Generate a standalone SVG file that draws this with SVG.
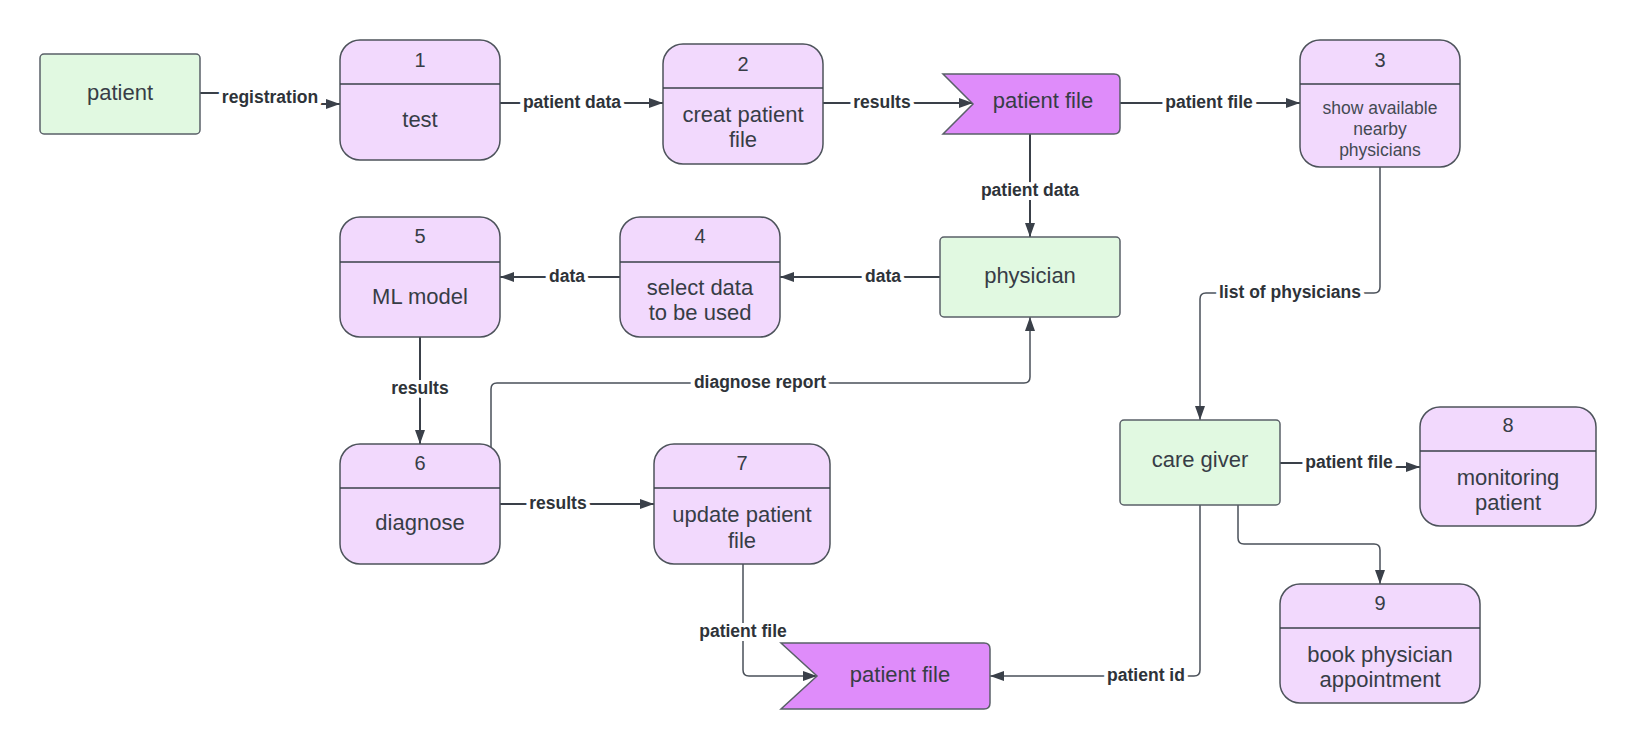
<svg xmlns="http://www.w3.org/2000/svg" width="1636" height="749" viewBox="0 0 1636 749">
<style>
.proc{fill:#f2d9fd;stroke:#4d535b;stroke-width:1.5}
.div{stroke:#3a4049;stroke-width:1.5}
.ent{fill:#e1f9e1;stroke:#5a6068;stroke-width:1.5}
.store{fill:#df8cfa;stroke:#5a6068;stroke-width:1.5}
.t{font-family:"Liberation Sans",Arial,sans-serif;font-size:22px;fill:#373d46;text-anchor:middle}
.n{font-family:"Liberation Sans",Arial,sans-serif;font-size:20px;fill:#373d46;text-anchor:middle}
.s{font-family:"Liberation Sans",Arial,sans-serif;font-size:17.5px;fill:#444a53;text-anchor:middle}
.c{fill:none;stroke:#3a4049;stroke-width:2}
.c2{fill:none;stroke:#4a5059;stroke-width:1.5}
.l{font-family:"Liberation Sans",Arial,sans-serif;font-size:17.5px;font-weight:bold;fill:#2e3339;text-anchor:middle;stroke:#fff;stroke-width:8;stroke-linejoin:round;paint-order:stroke}
</style>
<defs>
<marker id="ah" markerUnits="userSpaceOnUse" markerWidth="14" markerHeight="10" refX="14" refY="5" orient="auto">
<path d="M0,0 L14,5 L0,10 z" fill="#3a4049"/>
</marker>
</defs>
<rect width="1636" height="749" fill="#fff"/>
<g id="connectors">
<path class="c" d="M200,93 H270 V104 H340" marker-end="url(#ah)"/>
<path class="c" d="M500,103 H663" marker-end="url(#ah)"/>
<path class="c" d="M823,103 H973" marker-end="url(#ah)"/>
<path class="c" d="M1120,103 H1300" marker-end="url(#ah)"/>
<path class="c" d="M1030,134 V237" marker-end="url(#ah)"/>
<path class="c" d="M940,277 H780" marker-end="url(#ah)"/>
<path class="c" d="M620,277 H500" marker-end="url(#ah)"/>
<path class="c" d="M420,337 V444" marker-end="url(#ah)"/>
<path class="c2" d="M491,448 V389 Q491,383 497,383 H1024 Q1030,383 1030,377 V317" marker-end="url(#ah)"/>
<path class="c" d="M500,504 H654" marker-end="url(#ah)"/>
<path class="c2" d="M743,564 V670 Q743,676 749,676 H817" marker-end="url(#ah)"/>
<path class="c2" d="M1380,167 V287 Q1380,293 1374,293 H1206 Q1200,293 1200,299 V420" marker-end="url(#ah)"/>
<path class="c2" d="M1200,505 V670 Q1200,676 1194,676 H990" marker-end="url(#ah)"/>
<path class="c" d="M1280,463 H1340 V467 H1420" marker-end="url(#ah)"/>
<path class="c2" d="M1238,505 V538 Q1238,544 1244,544 H1374 Q1380,544 1380,550 V584" marker-end="url(#ah)"/>
<text class="l" x="270" y="103">registration</text>
<text class="l" x="572" y="108">patient data</text>
<text class="l" x="882" y="108">results</text>
<text class="l" x="1209" y="108">patient file</text>
<text class="l" x="1030" y="196">patient data</text>
<text class="l" x="883" y="282">data</text>
<text class="l" x="567" y="282">data</text>
<text class="l" x="420" y="394">results</text>
<text class="l" x="760" y="388">diagnose report</text>
<text class="l" x="558" y="509">results</text>
<text class="l" x="743" y="637">patient file</text>
<text class="l" x="1290" y="298">list of physicians</text>
<text class="l" x="1146" y="681">patient id</text>
<text class="l" x="1349" y="468">patient file</text>
</g>
<g id="patient">
<rect class="ent" x="40" y="54" width="160" height="80" rx="4"/>
<text class="t" x="120" y="100">patient</text>
</g>
<g id="p1">
<rect class="proc" x="340" y="40" width="160" height="120" rx="20"/>
<line class="div" x1="340" y1="84" x2="500" y2="84"/>
<text class="n" x="420" y="67">1</text>
<text class="t" x="420" y="127">test</text>
</g>
<g id="p2">
<rect class="proc" x="663" y="44" width="160" height="120" rx="20"/>
<line class="div" x1="663" y1="88" x2="823" y2="88"/>
<text class="n" x="743" y="71">2</text>
<text class="t" x="743" y="122">creat patient</text>
<text class="t" x="743" y="147">file</text>
</g>
<g id="store1">
<path class="store" d="M943,74 H1114 Q1120,74 1120,80 V128 Q1120,134 1114,134 H943 L973,104 Z"/>
<text class="t" x="1043" y="108">patient file</text>
</g>
<g id="p3">
<rect class="proc" x="1300" y="40" width="160" height="127" rx="20"/>
<line class="div" x1="1300" y1="84" x2="1460" y2="84"/>
<text class="n" x="1380" y="67">3</text>
<text class="s" x="1380" y="114">show available</text>
<text class="s" x="1380" y="135">nearby</text>
<text class="s" x="1380" y="156">physicians</text>
</g>
<g id="physician">
<rect class="ent" x="940" y="237" width="180" height="80" rx="4"/>
<text class="t" x="1030" y="283">physician</text>
</g>
<g id="p4">
<rect class="proc" x="620" y="217" width="160" height="120" rx="20"/>
<line class="div" x1="620" y1="262" x2="780" y2="262"/>
<text class="n" x="700" y="243">4</text>
<text class="t" x="700" y="295">select data</text>
<text class="t" x="700" y="320">to be used</text>
</g>
<g id="p5">
<rect class="proc" x="340" y="217" width="160" height="120" rx="20"/>
<line class="div" x1="340" y1="262" x2="500" y2="262"/>
<text class="n" x="420" y="243">5</text>
<text class="t" x="420" y="304">ML model</text>
</g>
<g id="p6">
<rect class="proc" x="340" y="444" width="160" height="120" rx="20"/>
<line class="div" x1="340" y1="488" x2="500" y2="488"/>
<text class="n" x="420" y="470">6</text>
<text class="t" x="420" y="530">diagnose</text>
</g>
<g id="p7">
<rect class="proc" x="654" y="444" width="176" height="120" rx="20"/>
<line class="div" x1="654" y1="488" x2="830" y2="488"/>
<text class="n" x="742" y="470">7</text>
<text class="t" x="742" y="522">update patient</text>
<text class="t" x="742" y="548">file</text>
</g>
<g id="store2">
<path class="store" d="M781,643 H984 Q990,643 990,649 V703 Q990,709 984,709 H781 L817,676 Z"/>
<text class="t" x="900" y="682">patient file</text>
</g>
<g id="caregiver">
<rect class="ent" x="1120" y="420" width="160" height="85" rx="4"/>
<text class="t" x="1200" y="467">care giver</text>
</g>
<g id="p8">
<rect class="proc" x="1420" y="407" width="176" height="119" rx="20"/>
<line class="div" x1="1420" y1="451" x2="1596" y2="451"/>
<text class="n" x="1508" y="432">8</text>
<text class="t" x="1508" y="485">monitoring</text>
<text class="t" x="1508" y="510">patient</text>
</g>
<g id="p9">
<rect class="proc" x="1280" y="584" width="200" height="119" rx="20"/>
<line class="div" x1="1280" y1="628" x2="1480" y2="628"/>
<text class="n" x="1380" y="610">9</text>
<text class="t" x="1380" y="662">book physician</text>
<text class="t" x="1380" y="687">appointment</text>
</g>
</svg>
